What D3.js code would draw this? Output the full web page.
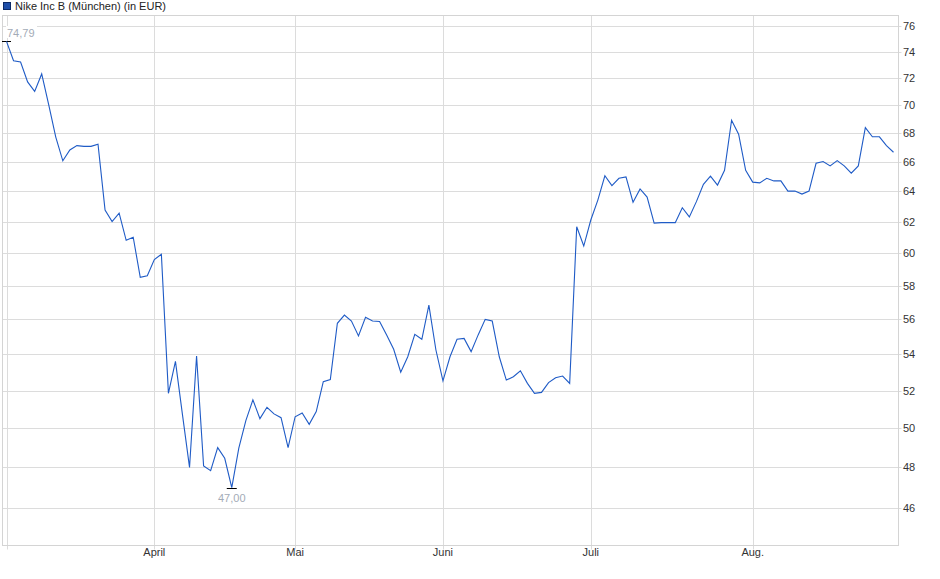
<!DOCTYPE html>
<html>
<head>
<meta charset="utf-8">
<script src="https://cdn.jsdelivr.net/npm/d3@7"></script>
<style>
  html, body { margin: 0; padding: 0; background: #fff; }
  svg { display: block; font-family: "Liberation Sans", Arial, sans-serif; }
</style>
</head>
<body>
<svg id="chart" width="940" height="579"></svg>
<script>
// ---- Data (Nike Inc B, München, EUR; one value per trading day, Mar–Aug) ----
const title = "Nike Inc B (München) (in EUR)";
const prices = [
  74.79, 73.3, 73.2, 71.7, 71.0, 72.3, 70.0, 67.7, 66.05, 66.8,
  67.1, 67.05, 67.05, 67.2, 62.75, 62.0, 62.55, 60.8, 61.0, 58.5,
  58.6, 59.6, 59.93, 51.85, 53.6, 50.7, 48.0, 53.9, 48.07, 47.84,
  49.0, 48.46, 47.0, 48.97, 50.4, 51.5, 50.5, 51.1, 50.75, 50.55,
  49.0, 50.6, 50.8, 50.2, 50.87, 52.48, 52.6, 55.77, 56.25, 55.9,
  55.04, 56.12, 55.9, 55.87, 55.1, 54.28, 53.0, 53.86, 55.13, 54.85,
  56.84, 54.24, 52.53, 53.86, 54.85, 54.9, 54.15, 55.1, 56.0, 55.9,
  53.86, 52.57, 52.75, 53.08, 52.39, 51.85, 51.9, 52.43, 52.7, 52.79,
  52.39, 61.67, 60.44, 62.1, 63.4, 65.03, 64.36, 64.86, 64.95, 63.26,
  64.14, 63.6, 61.9, 61.93, 61.93, 61.93, 62.9, 62.3, 63.3, 64.45,
  65.0, 64.4, 65.4, 68.9, 67.9, 65.4, 64.6, 64.55, 64.86, 64.68,
  64.68, 64.0, 64.0, 63.8, 64.0, 65.88, 66.0, 65.7, 66.06, 65.7,
  65.2, 65.7, 68.37, 67.72, 67.72, 67.1, 66.64
];
// month starts as trading-day index (first index = March, unlabeled)
const monthIndex  = [0, 21, 41, 62, 83, 106];
const monthLabels = ["", "April", "Mai", "Juni", "Juli", "Aug."];
const yTicks = [46, 48, 50, 52, 54, 56, 58, 60, 62, 64, 66, 68, 70, 72, 74, 76];
const highLabel = "74,79";
const lowLabel = "47,00";

// ---- Layout ----
const svg = d3.select("#chart");
const plot = { left: 2.5, right: 898.5, top: 15.5, bottom: 545.5 };

const x = d3.scaleLinear().domain([0, prices.length - 1]).range([6.5, 893.5]);
const y = d3.scaleLog().domain([46, 76]).range([508.3, 26]);

svg.append("rect").attr("width", 940).attr("height", 579).attr("fill", "#fff");

// Legend / title
svg.append("rect").attr("x", 3.5).attr("y", 2.5).attr("width", 7).attr("height", 7)
  .attr("fill", "#1f4fa8").attr("stroke", "#0d2a66").attr("stroke-width", 1);
svg.append("text").attr("x", 15).attr("y", 10).attr("font-size", 11).attr("fill", "#222")
  .text(title);

// Horizontal grid + labels
const gy = svg.append("g");
gy.selectAll("line").data(yTicks).join("line")
  .attr("x1", plot.left).attr("x2", plot.right + 3)
  .attr("y1", d => Math.round(y(d)) + 0.5).attr("y2", d => Math.round(y(d)) + 0.5)
  .attr("stroke", "#dcdcdc").attr("stroke-width", 1);
gy.selectAll("text").data(yTicks).join("text")
  .attr("x", 903).attr("y", d => Math.round(y(d)) + 4)
  .attr("font-size", 11).attr("fill", "#333")
  .text(d => d);

// Vertical month grid + labels
const gx = svg.append("g");
gx.selectAll("line").data(monthIndex).join("line")
  .attr("x1", d => Math.round(x(d)) + 0.5).attr("x2", d => Math.round(x(d)) + 0.5)
  .attr("y1", plot.top).attr("y2", plot.bottom + 4)
  .attr("stroke", "#dcdcdc").attr("stroke-width", 1);
gx.selectAll("text").data(monthIndex).join("text")
  .attr("x", d => x(d)).attr("y", 556)
  .attr("text-anchor", "middle").attr("font-size", 11).attr("fill", "#333")
  .text((d, i) => monthLabels[i]);

// Plot border
svg.append("rect")
  .attr("x", plot.left).attr("y", plot.top)
  .attr("width", plot.right - plot.left).attr("height", plot.bottom - plot.top)
  .attr("fill", "none").attr("stroke", "#d4d4d4").attr("stroke-width", 1);

// High label (with white background)
const iMax = d3.maxIndex(prices), iMin = d3.minIndex(prices);
svg.append("rect").attr("x", 6).attr("y", 26).attr("width", 31).attr("height", 12).attr("fill", "#fff");
svg.append("text").attr("x", 7).attr("y", 36.5).attr("font-size", 11).attr("fill", "#a3abb7")
  .text(highLabel);
svg.append("line")
  .attr("x1", x(iMax) - 4.5).attr("x2", x(iMax) + 4.5)
  .attr("y1", Math.round(y(prices[iMax])) + 0.5).attr("y2", Math.round(y(prices[iMax])) + 0.5)
  .attr("stroke", "#000").attr("stroke-width", 1);

// Price line
const line = d3.line().x((d, i) => x(i)).y(d => y(d));
svg.append("path").datum(prices)
  .attr("d", line).attr("fill", "none")
  .attr("stroke", "#1f5bc6").attr("stroke-width", 1.1).attr("stroke-linejoin", "miter");

// Low label
svg.append("line")
  .attr("x1", x(iMin) - 5).attr("x2", x(iMin) + 5)
  .attr("y1", Math.round(y(prices[iMin])) + 0.5).attr("y2", Math.round(y(prices[iMin])) + 0.5)
  .attr("stroke", "#000").attr("stroke-width", 1);
svg.append("text").attr("x", x(iMin)).attr("y", y(prices[iMin]) + 14)
  .attr("text-anchor", "middle").attr("font-size", 11).attr("fill", "#a3abb7")
  .text(lowLabel);
</script>
</body>
</html>
